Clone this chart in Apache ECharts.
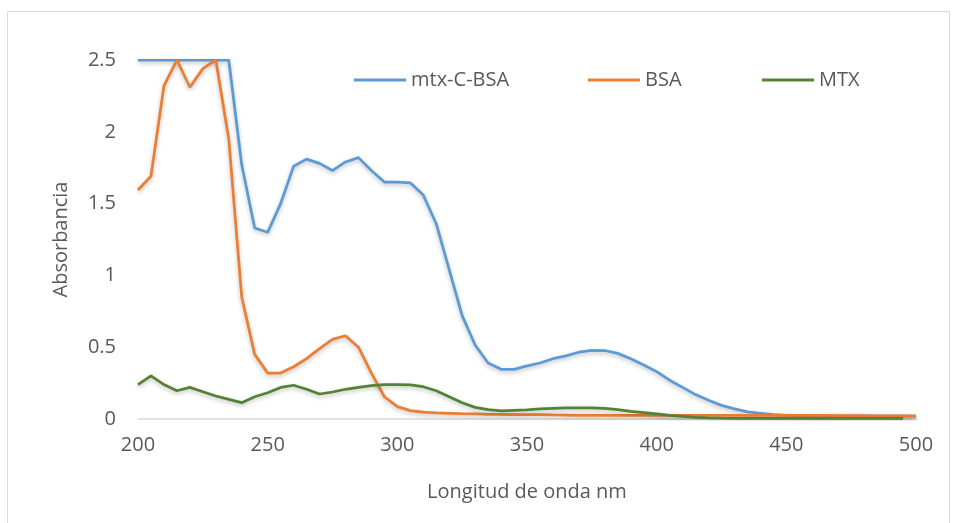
<!DOCTYPE html>
<html>
<head>
<meta charset="utf-8">
<script src="https://cdn.jsdelivr.net/npm/echarts@6/dist/echarts.min.js"></script>
<style>
html,body{margin:0;padding:0;background:#fff;}
#chart{width:956px;height:523px;}
</style>
</head>
<body>
<div id="chart"></div>
<script>
var wavelengths = [200,205,210,215,220,225,230,235,240,245,250,255,260,265,270,275,280,285,290,295,300,305,310,315,320,325,330,335,340,345,350,355,360,365,370,375,380,385,390,395,400,405,410,415,420,425,430,435,440,445,450,455,460,465,470,475,480,485,490,495,500];
var mtxCBSA = [2.5,2.5,2.5,2.5,2.5,2.5,2.5,2.5,1.77,1.33,1.30,1.50,1.76,1.81,1.78,1.73,1.79,1.82,1.73,1.65,1.65,1.645,1.56,1.36,1.04,0.72,0.515,0.39,0.346,0.346,0.37,0.39,0.42,0.44,0.465,0.478,0.477,0.457,0.42,0.376,0.33,0.27,0.22,0.17,0.13,0.095,0.07,0.05,0.04,0.03,0.025,0.022,0.02,0.02,0.02,0.02,0.02,0.02,0.02,0.02,0.02];
var bsa = [1.595,1.69,2.32,2.5,2.31,2.44,2.5,1.95,0.85,0.45,0.32,0.32,0.364,0.42,0.49,0.555,0.58,0.50,0.32,0.155,0.086,0.058,0.048,0.043,0.04,0.037,0.035,0.033,0.032,0.031,0.03,0.03,0.028,0.027,0.026,0.026,0.025,0.025,0.025,0.025,0.025,0.025,0.025,0.025,0.025,0.025,0.025,0.025,0.025,0.025,0.025,0.025,0.025,0.025,0.024,0.023,0.023,0.022,0.022,0.021,0.02];
var mtx = [0.24,0.30,0.24,0.197,0.22,0.19,0.16,0.137,0.114,0.155,0.183,0.22,0.235,0.207,0.174,0.188,0.207,0.22,0.232,0.239,0.24,0.238,0.225,0.197,0.155,0.113,0.081,0.065,0.056,0.06,0.063,0.07,0.074,0.078,0.078,0.078,0.074,0.065,0.053,0.044,0.035,0.026,0.018,0.012,0.008,0.006,0.005,0.005,0.005,0.005,0.005,0.005,0.005,0.005,0.005,0.005,0.005,0.005,0.005,0.005];
var seriesNames = ['mtx-C-BSA','BSA','MTX'];
var seriesColors = ['#5B9BD5','#ED7D31','#548235'];
var yTicks = [0,0.5,1,1.5,2,2.5];
var xTicks = [200,250,300,350,400,450,500];

function pairs(xs, ys){ var out=[]; for(var i=0;i<ys.length;i++){ out.push([xs[i], ys[i]]); } return out; }
var values = [mtxCBSA, bsa, mtx];

var chart = echarts.init(document.getElementById('chart'));
var font = 'Open Sans';
var legendPos = [349, 583, 757];
chart.setOption({
  backgroundColor:'#fff',
  animation:false,
  graphic:[{type:'rect', shape:{x:7.5,y:11.5,width:942,height:520}, style:{fill:'none', stroke:'#d9d9d9', lineWidth:1}, silent:true}],
  legend: seriesNames.map(function(n,i){
    return {data:[n], left:legendPos[i], top:65, itemWidth:52, itemHeight:3, icon:'rect', itemGap:4,
      textStyle:{color:'#595959', fontSize:20, fontFamily:font}};
  }),
  grid:{left:138, right:40, top:60, bottom:104},
  xAxis:{type:'value', min:200, max:500, interval:50,
    axisLine:{lineStyle:{color:'#d9d9d9', width:1.5}}, axisTick:{show:false}, splitLine:{show:false},
    axisLabel:{color:'#595959', fontSize:20, fontFamily:font, margin:16},
    name:'Longitud de onda nm', nameLocation:'middle', nameGap:63,
    nameTextStyle:{color:'#595959', fontSize:20, fontFamily:font}},
  yAxis:{type:'value', min:0, max:2.5, interval:0.5,
    axisLine:{show:false}, axisTick:{show:false}, splitLine:{show:false},
    axisLabel:{color:'#595959', fontSize:20, fontFamily:font, margin:22},
    name:'Absorbancia', nameLocation:'middle', nameGap:67, nameRotate:90,
    nameTextStyle:{color:'#595959', fontSize:20, fontFamily:font}},
  series: seriesNames.map(function(n,i){
    return {name:n, type:'line', showSymbol:false, data:pairs(wavelengths, values[i]),
      lineStyle:{color:seriesColors[i], width:2.75, shadowColor:'rgba(0,0,0,0.25)', shadowBlur:4, shadowOffsetY:2},
      itemStyle:{color:seriesColors[i]}};
  })
});
</script>
</body>
</html>
